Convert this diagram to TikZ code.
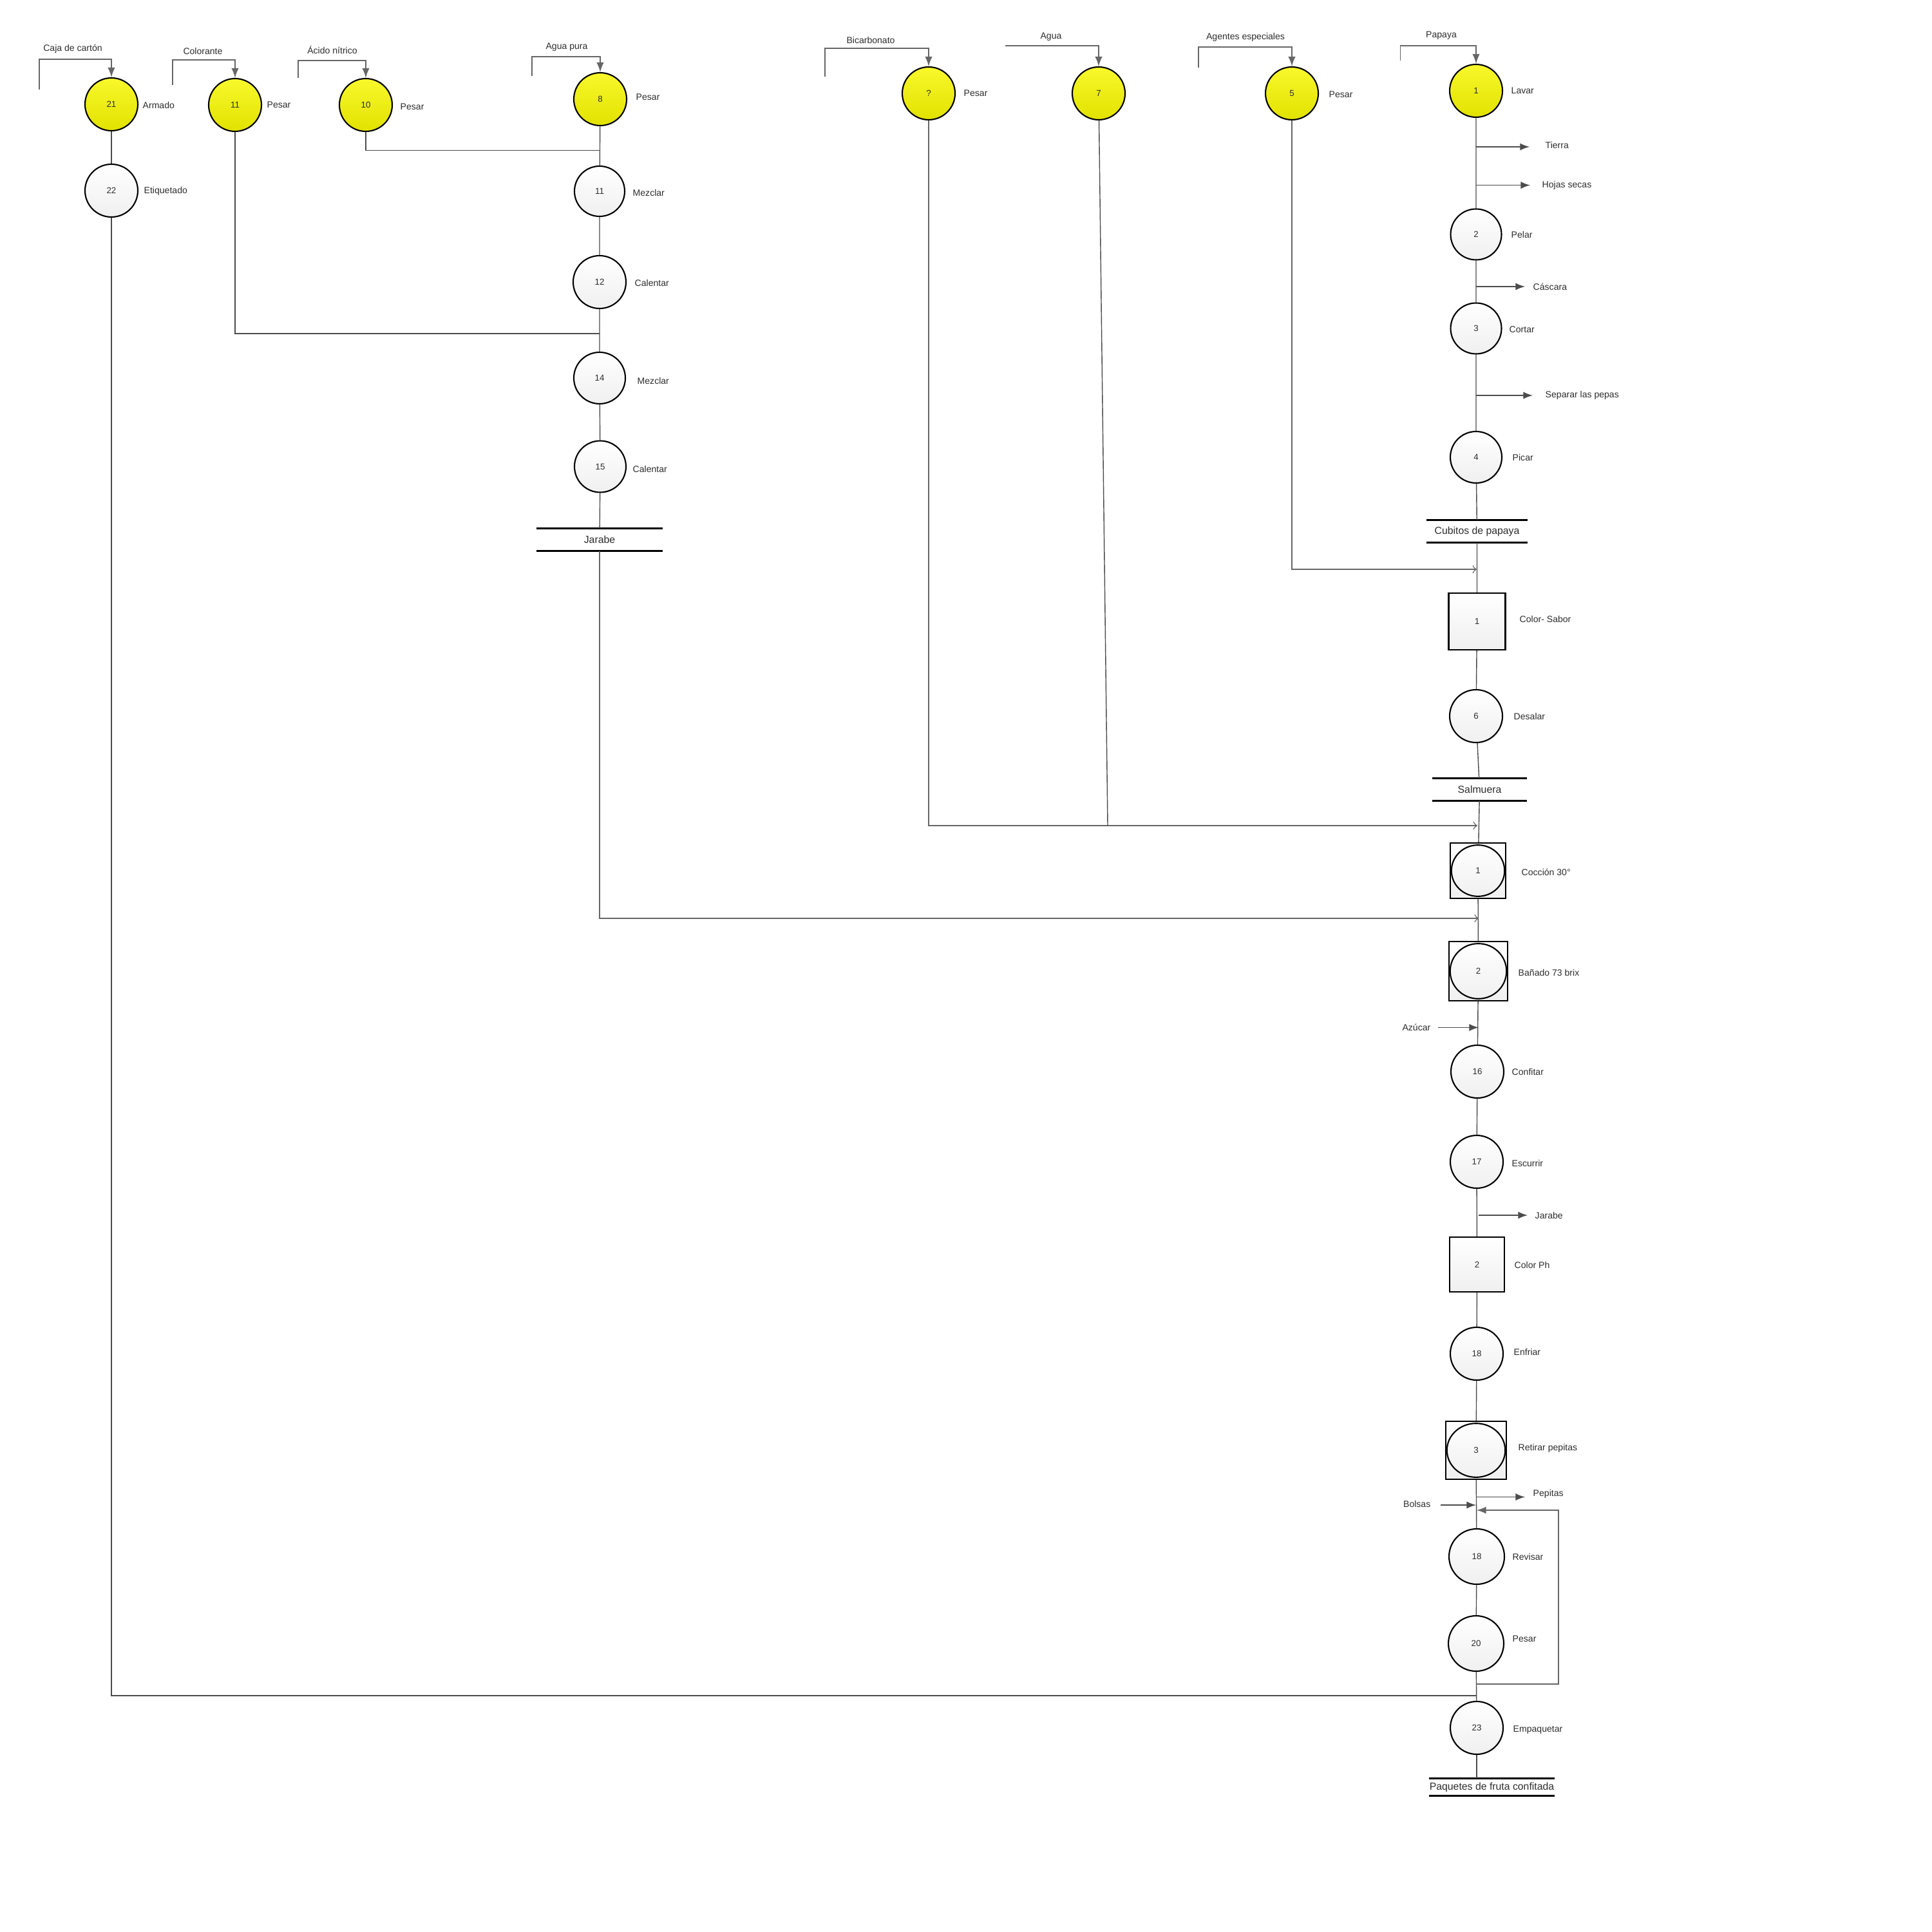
\documentclass[tikz,border=0pt]{standalone}
\usepackage{fontspec}
\setmainfont{Liberation Sans}
\usepackage{tikz}
\usetikzlibrary{arrows,calc}

\definecolor{yelhi}{RGB}{248,248,44}
\definecolor{yello}{RGB}{226,226,0}
\definecolor{txt}{RGB}{45,45,45}

\tikzset{
	op/.style={circle,draw,line width=0.6pt,minimum size=0.82cm,inner sep=0pt,
		top color=white,bottom color=black!6,text=txt,font=\fontsize{3.8}{4.5}\selectfont},
	opin/.style={op,top color=yelhi,bottom color=yello},
	insp/.style={rectangle,draw,line width=0.6pt,minimum size=0.87cm,inner sep=0pt,
		top color=white,bottom color=black!6,text=txt,font=\fontsize{3.8}{4.5}\selectfont},
	combo/.style={insp,path picture={
		\draw[line width=0.6pt] let \p1=($(path picture bounding box.north east)-(path picture bounding box.south west)$) in
			(path picture bounding box.center) ellipse [x radius=0.5*\x1-0.5pt,y radius=0.5*\y1-0.9pt];}},
	store/.style={rectangle,inner sep=0pt,text=txt,font=\fontsize{4.5}{5.5}\selectfont},
	bar/.style={line width=0.9pt},
	lbl/.style={inner sep=0pt,anchor=west,text=txt,font=\fontsize{4}{5}\selectfont},
	lble/.style={lbl,anchor=east},
	src/.style={inner sep=0pt,text=txt,font=\fontsize{4}{5}\selectfont},
	flow/.style={draw=black!70,line width=0.4pt},
	outflow/.style={flow,line width=0.45pt,-latex},
	merge/.style={draw=black!60,line width=0.4pt,->},
	feed/.style={draw=black!60,line width=0.5pt,-latex}
}

\begin{document}
\begin{tikzpicture}
	\useasboundingbox (0,0) rectangle (30,-30);
%	\draw[help lines] (0,0) grid (30,-30);
	\path (0.61,-1.39) coordinate (f21);
	\path (0.61,-0.92) coordinate (g21);
	\path (2.68,-1.32) coordinate (f11);
	\path (2.68,-0.927) coordinate (g11);
	\path (4.63,-1.21) coordinate (f10);
	\path (4.63,-0.94) coordinate (g10);
	\path (8.26,-1.18) coordinate (f8);
	\path (8.26,-0.88) coordinate (g8);
	\path (12.81,-1.19) coordinate (fq);
	\path (12.81,-0.75) coordinate (gq);
	\path (15.61,-0.71) coordinate (g7);
	\path (18.61,-1.05) coordinate (f5);
	\path (18.61,-0.73) coordinate (g5);
	\path (21.745,-0.94) coordinate (f1);
	\path (21.745,-0.707) coordinate (g1);
	\path (9.31,-2.335) coordinate (j10);
	\path (9.31,-5.18) coordinate (j11);
	\path (22.93,-8.84) coordinate (m5);
	\path (17.20,-12.82) coordinate (j7);
	\path (22.94,-12.82) coordinate (mq);
	\path (22.96,-14.26) coordinate (mj);
	\path (22.93,-26.33) coordinate (j22);
	\path (22.92,-2.28) coordinate (tierra0);
	\path (23.75,-2.28) coordinate (tierra1);
	\path (22.92,-2.876) coordinate (hojas0);
	\path (23.76,-2.876) coordinate (hojas1);
	\path (22.92,-4.45) coordinate (cascara0);
	\path (23.68,-4.45) coordinate (cascara1);
	\path (22.92,-6.14) coordinate (pepas0);
	\path (23.80,-6.14) coordinate (pepas1);
	\path (22.33,-15.955) coordinate (azucar0);
	\path (22.96,-15.955) coordinate (azucar1);
	\path (22.96,-18.87) coordinate (jarabe0);
	\path (23.72,-18.87) coordinate (jarabe1);
	\path (22.92,-23.245) coordinate (pepitas0);
	\path (23.68,-23.245) coordinate (pepitas1);
	\path (22.37,-23.37) coordinate (bolsas0);
	\path (22.92,-23.37) coordinate (bolsas1);
	\path (22.93,-26.15) coordinate (loop0);
	\path (24.20,-23.45) coordinate (loopc);
	\path (22.93,-23.45) coordinate (loop1);

	\node[opin] (op21) at (1.73,-1.62) {21};
	\node[op] (op22) at (1.73,-2.96) {22};
	\node[opin] (op11a) at (3.65,-1.63) {11};
	\node[opin] (op10) at (5.68,-1.63) {10};
	\node[opin] (op8) at (9.32,-1.54) {8};
	\node[op,minimum size=0.78cm] (op11) at (9.31,-2.97) {11};
	\node[op] (op12) at (9.31,-4.38) {12};
	\node[op,minimum size=0.8cm] (op14) at (9.31,-5.87) {14};
	\node[op,minimum size=0.8cm] (op15) at (9.32,-7.245) {15};
	\node[store,minimum width=1.94cm,minimum height=0.34cm] (jarabe) at (9.31,-8.38) {Jarabe};
	\node[opin] (opq) at (14.42,-1.45) {?};
	\node[opin] (op7) at (17.06,-1.45) {7};
	\node[opin] (op5) at (20.06,-1.45) {5};
	\node[opin] (op1) at (22.92,-1.41) {1};
	\node[op,minimum size=0.79cm] (op2) at (22.92,-3.64) {2};
	\node[op,minimum size=0.79cm] (op3) at (22.92,-5.10) {3};
	\node[op,minimum size=0.8cm] (op4) at (22.92,-7.10) {4};
	\node[store,minimum width=1.55cm,minimum height=0.34cm] (cubitos) at (22.935,-8.25) {Cubitos de papaya};
	\node[insp,minimum size=0.88cm] (in1) at (22.935,-9.65) {1};
	\node[op] (op6) at (22.92,-11.12) {6};
	\node[store,minimum width=1.45cm,minimum height=0.335cm] (salmuera) at (22.975,-12.26) {Salmuera};
	\node[combo,minimum size=0.86cm] (cb1) at (22.95,-13.52) {1};
	\node[combo,minimum width=0.91cm,minimum height=0.92cm] (cb2) at (22.955,-15.08) {2};
	\node[op] (op16) at (22.94,-16.64) {16};
	\node[op] (op17) at (22.93,-18.04) {17};
	\node[insp,minimum size=0.85cm] (in2) at (22.935,-19.635) {2};
	\node[op] (op18) at (22.93,-21.02) {18};
	\node[combo,minimum width=0.94cm,minimum height=0.90cm] (cb3) at (22.92,-22.52) {3};
	\node[op,minimum size=0.86cm] (op18b) at (22.93,-24.17) {18};
	\node[op,minimum size=0.86cm] (op20) at (22.92,-25.52) {20};
	\node[op] (op23) at (22.93,-26.83) {23};
	\node[store,minimum width=1.91cm,minimum height=0.26cm] (paquetes) at (23.165,-27.75) {Paquetes de fruta confitada};

	\node[lbl] (lArmado) at (2.21,-1.63) {Armado};
	\node[lbl] (lEtiquetado) at (2.23,-2.97) {Etiquetado};
	\node[lbl] (lPesar11) at (4.14,-1.63) {Pesar};
	\node[lbl] (lPesar10) at (6.21,-1.66) {Pesar};
	\node[lbl] (lPesar8) at (9.87,-1.51) {Pesar};
	\node[lbl] (lMezclar11) at (9.82,-2.99) {Mezclar};
	\node[lbl] (lCalentar12) at (9.85,-4.39) {Calentar};
	\node[lbl] (lMezclar14) at (9.89,-5.91) {Mezclar};
	\node[lbl] (lCalentar15) at (9.82,-7.28) {Calentar};
	\node[lbl] (lPesarq) at (14.96,-1.45) {Pesar};
	\node[lbl] (lPesar5) at (20.63,-1.47) {Pesar};
	\node[lbl] (lLavar) at (23.46,-1.41) {Lavar};
	\node[lbl] (lPelar) at (23.46,-3.64) {Pelar};
	\node[lbl] (lCortar) at (23.43,-5.12) {Cortar};
	\node[lbl] (lPicar) at (23.48,-7.10) {Picar};
	\node[lbl] (lColorSabor) at (23.59,-9.61) {Color- Sabor};
	\node[lbl] (lDesalar) at (23.50,-11.12) {Desalar};
	\node[lbl] (lCoccion) at (23.62,-13.54) {Cocción 30°};
	\node[lbl] (lBanado) at (23.57,-15.10) {Bañado 73 brix};
	\node[lbl] (lConfitar) at (23.47,-16.64) {Confitar};
	\node[lbl] (lEscurrir) at (23.47,-18.06) {Escurrir};
	\node[lbl] (lColorPh) at (23.51,-19.64) {Color Ph};
	\node[lbl] (lEnfriar) at (23.50,-20.99) {Enfriar};
	\node[lbl] (lRetirar) at (23.57,-22.49) {Retirar pepitas};
	\node[lbl] (lRevisar) at (23.48,-24.17) {Revisar};
	\node[lbl] (lPesar20) at (23.48,-25.45) {Pesar};
	\node[lbl] (lEmpaquetar) at (23.49,-26.86) {Empaquetar};

	\node[src] (sCaja) at (1.13,-0.76) {Caja de cartón};
	\node[src] (sColorante) at (3.15,-0.79) {Colorante};
	\node[src] (sAcido) at (5.16,-0.77) {Ácido nítrico};
	\node[src] (sAguaPura) at (8.80,-0.73) {Agua pura};
	\node[src] (sBicarbonato) at (13.52,-0.62) {Bicarbonato};
	\node[src] (sAgua) at (16.32,-0.57) {Agua};
	\node[src] (sAgentes) at (19.34,-0.58) {Agentes especiales};
	\node[src] (sPapaya) at (22.38,-0.55) {Papaya};

	\node[lbl] (oTierra) at (23.99,-2.25) {Tierra};
	\node[lbl] (oHojas) at (23.94,-2.876) {Hojas secas};
	\node[lbl] (oCascara) at (23.80,-4.45) {Cáscara};
	\node[lbl] (oPepas) at (23.99,-6.14) {Separar las pepas};
	\node[lble] (iAzucar) at (22.22,-15.955) {Azúcar};
	\node[lbl] (oJarabe) at (23.83,-18.87) {Jarabe};
	\node[lbl] (oPepitas) at (23.80,-23.20) {Pepitas};
	\node[lble] (iBolsas) at (22.22,-23.35) {Bolsas};

	\draw[bar] (jarabe.north west) -- (jarabe.north east) (jarabe.south west) -- (jarabe.south east);
	\draw[bar] (cubitos.north west) -- (cubitos.north east) (cubitos.south west) -- (cubitos.south east);
	\draw[bar] (salmuera.north west) -- (salmuera.north east) (salmuera.south west) -- (salmuera.south east);
	\draw[bar] (paquetes.north west) -- (paquetes.north east) (paquetes.south west) -- (paquetes.south east);

	\draw[feed] (f21) -- (g21) -| (op21.north);
	\draw[feed] (f11) -- (g11) -| (op11a.north);
	\draw[feed] (f10) -- (g10) -| (op10.north);
	\draw[feed] (f8) -- (g8) -| (op8.north);
	\draw[feed] (fq) -- (gq) -| (opq.north);
	\draw[feed] (g7) -| (op7.north);
	\draw[feed] (f5) -- (g5) -| (op5.north);
	\draw[feed] (f1) -- (g1) -| (op1.north);

	\draw[flow] (op21) -- (op22);
	\draw[flow] (op8) -- (op11) -- (op12) -- (op14) -- (op15) -- (jarabe);
	\draw[flow] (op10) |- (j10);
	\draw[flow] (op11a) |- (j11);
	\draw[flow] (op1) -- (op2) -- (op3) -- (op4) -- (cubitos) -- (in1) -- (op6) -- (salmuera) -- (cb1) -- (cb2)
		-- (op16) -- (op17) -- (in2) -- (op18) -- (cb3) -- (op18b) -- (op20) -- (op23);
	\draw[flow] (op23) -- (op23 |- paquetes.north);

	\draw[merge] (op5) |- (m5);
	\draw[merge] (opq) |- (mq);
	\draw[flow] (op7) -- (j7);
	\draw[merge] (jarabe) |- (mj);
	\draw[flow] (op22) |- (j22);

	\draw[outflow] (tierra0) -- (tierra1);
	\draw[outflow] (hojas0) -- (hojas1);
	\draw[outflow] (cascara0) -- (cascara1);
	\draw[outflow] (pepas0) -- (pepas1);
	\draw[outflow] (azucar0) -- (azucar1);
	\draw[outflow] (jarabe0) -- (jarabe1);
	\draw[outflow] (pepitas0) -- (pepitas1);
	\draw[outflow] (bolsas0) -- (bolsas1);
	\draw[outflow,draw=black!60] (loop0) -| (loopc) -- (loop1);
\end{tikzpicture}
\end{document}
